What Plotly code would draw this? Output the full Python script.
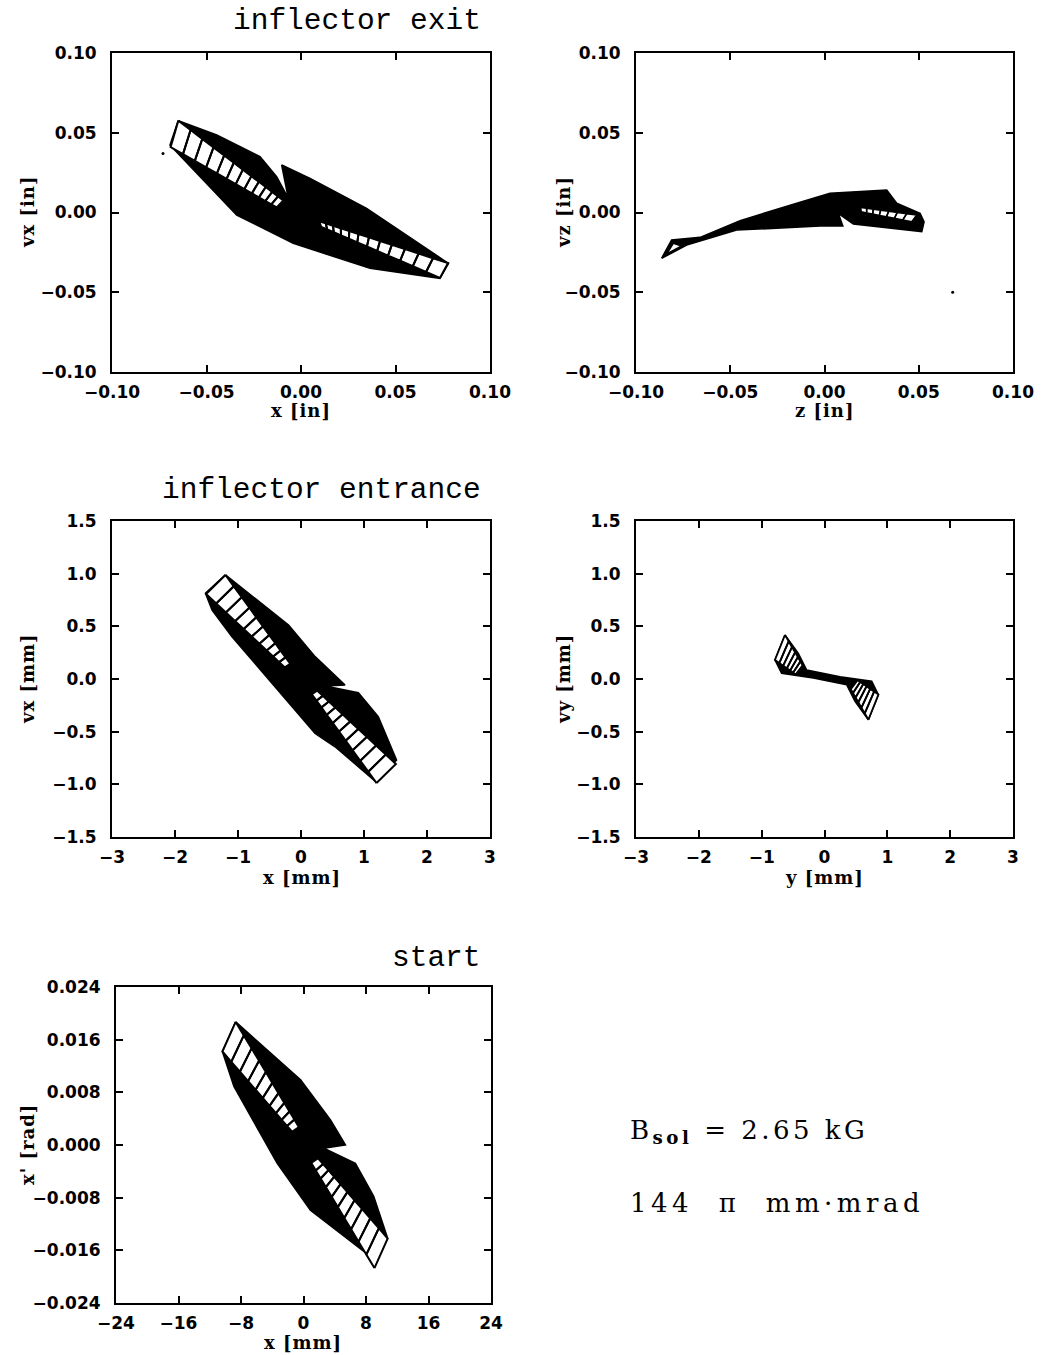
import plotly.graph_objects as go

W, H = 1043, 1355

# ================= data =================
# --- Panel 1: inflector exit, x vs vx [in] ---
P1_BODY_X = [-0.0649, -0.0446, -0.0217, -0.0129, -0.0067, -0.0102, 0.0048, 0.0347, 0.0780, 0.0735, 0.0365, -0.0041, -0.0340, -0.0693]
P1_BODY_Y = [0.0576, 0.0486, 0.0350, 0.0224, 0.0089, 0.0298, 0.0214, 0.0026, -0.0319, -0.0413, -0.0350, -0.0193, -0.0016, 0.0423]
# ladders: outer rail (start, end), inner rail (start, end)
P1_LAD1_OUT_X = [-0.0649, -0.0085]
P1_LAD1_OUT_Y = [0.0576, 0.0068]
P1_LAD1_IN_X = [-0.0690, -0.0120]
P1_LAD1_IN_Y = [0.0410, 0.0026]
P1_LAD2_OUT_X = [0.0735, 0.0097]
P1_LAD2_OUT_Y = [-0.0410, -0.0085]
P1_LAD2_IN_X = [0.0778, 0.0086]
P1_LAD2_IN_Y = [-0.0317, -0.0051]
P1_RUNGS = [0, 0.115, 0.225, 0.33, 0.43, 0.52, 0.605, 0.685, 0.755, 0.82, 0.88, 0.935, 0.985]
P1_STRAY_X = [-0.073]
P1_STRAY_Y = [0.037]

# --- Panel 2: inflector exit, z vs vz [in] ---
P2_BODY_X = [-0.0864, -0.0811, -0.0660, -0.0448, -0.0147, 0.0029, 0.0330, 0.0383, 0.0507, 0.0528, 0.0516, 0.0153, 0.0073, 0.0097, -0.0024, -0.0466, -0.0731]
P2_BODY_Y = [-0.0287, -0.0172, -0.0156, -0.0051, 0.0058, 0.0120, 0.0141, 0.0058, -0.0005, -0.0058, -0.0120, -0.0072, -0.0005, -0.0085, -0.0085, -0.0110, -0.0204]
P2_LAD1_OUT_X = [0.0489, 0.0135]
P2_LAD1_OUT_Y = [-0.0016, 0.0041]
P2_LAD1_IN_X = [0.0463, 0.0144]
P2_LAD1_IN_Y = [-0.0058, 0.0016]
P2_RUNGS = [0, 0.15, 0.29, 0.42, 0.54, 0.65, 0.75, 0.84]
P2_HOLE_X = [-0.0802, -0.0837, -0.0758]
P2_HOLE_Y = [-0.0193, -0.0260, -0.0210]
P2_STRAY_X = [0.068]
P2_STRAY_Y = [-0.050]

# --- Panel 3: inflector entrance, x vs vx [mm] ---
P3_BODY_X = [-1.199, -0.198, 0.224, 0.699, 0.383, 0.910, 1.226, 1.516, 1.195, 0.541, 0.224, -0.620, -1.095, -1.411, -1.516]
P3_BODY_Y = [0.988, 0.513, 0.212, -0.057, -0.066, -0.130, -0.358, -0.769, -0.978, -0.643, -0.516, 0.070, 0.402, 0.655, 0.814]
P3_LAD1_OUT_X = [-1.199, -0.145]
P3_LAD1_OUT_Y = [0.988, 0.123]
P3_LAD1_IN_X = [-1.506, -0.224]
P3_LAD1_IN_Y = [0.807, 0.092]
P3_LAD2_OUT_X = [1.199, 0.145]
P3_LAD2_OUT_Y = [-0.988, -0.123]
P3_LAD2_IN_X = [1.506, 0.224]
P3_LAD2_IN_Y = [-0.807, -0.092]
P3_RUNGS = [0, 0.125, 0.245, 0.36, 0.465, 0.565, 0.66, 0.75, 0.83, 0.905, 0.975]

# --- Panel 4: inflector entrance, y vs vy [mm] ---
P4_BODY_X = [-0.629, -0.417, -0.284, 0.247, 0.751, 0.857, 0.698, 0.486, 0.353, -0.178, -0.682, -0.788]
P4_BODY_Y = [0.418, 0.244, 0.085, 0.022, -0.022, -0.149, -0.386, -0.212, -0.054, 0.009, 0.054, 0.180]
P4_LAD1_OUT_X = [-0.629, -0.337]
P4_LAD1_OUT_Y = [0.418, 0.117]
P4_LAD1_IN_X = [-0.788, -0.443]
P4_LAD1_IN_Y = [0.180, 0.038]
P4_LAD2_OUT_X = [0.699, 0.407]
P4_LAD2_OUT_Y = [-0.386, -0.085]
P4_LAD2_IN_X = [0.858, 0.513]
P4_LAD2_IN_Y = [-0.148, -0.006]
P4_RUNGS = [0, 0.2, 0.38, 0.55, 0.7, 0.84, 0.96]

# --- Panel 5: start, x [mm] vs x' [rad] ---
P5_BODY_X = [-8.68, -0.38, 3.45, 5.36, 2.60, 6.64, 8.98, 10.69, 9.20, 0.89, -3.36, -8.90, -10.38]
P5_BODY_Y = [0.0187, 0.0099, 0.0038, 0.0, -0.0005, -0.0028, -0.0078, -0.0139, -0.0175, -0.0099, -0.0028, 0.0089, 0.0142]
P5_LAD1_OUT_X = [-8.68, -0.38]
P5_LAD1_OUT_Y = [0.0187, 0.0023]
P5_LAD1_IN_X = [-10.38, -1.24]
P5_LAD1_IN_Y = [0.0142, 0.0017]
P5_LAD2_OUT_X = [9.08, 0.78]
P5_LAD2_OUT_Y = [-0.0187, -0.0023]
P5_LAD2_IN_X = [10.78, 1.64]
P5_LAD2_IN_Y = [-0.0142, -0.0017]
P5_RUNGS = [0, 0.125, 0.245, 0.36, 0.465, 0.565, 0.66, 0.75, 0.83, 0.905, 0.975]

# --- tick values ---
TICKS_IN = [-0.10, -0.05, 0.0, 0.05, 0.10]
TICKS_MM_X = [-3, -2, -1, 0, 1, 2, 3]
TICKS_MM_V = [-1.5, -1.0, -0.5, 0.0, 0.5, 1.0, 1.5]
TICKS_START_X = [-24, -16, -8, 0, 8, 16, 24]
TICKS_START_XP = [-0.024, -0.016, -0.008, 0.0, 0.008, 0.016, 0.024]

# ================= geometry (pixels of the page) =================
COL_L = (112, 490)
COL_R = (636, 1013)
COL_5 = (116, 491)
ROW1 = (53, 372)
ROW2 = (521, 837)
ROW3 = (987, 1303)


def xdom(c):
    return [c[0] / W, c[1] / W]


def ydom(r):
    return [1 - r[1] / H, 1 - r[0] / H]


def closed(xs, ys):
    return list(xs) + [xs[0], None], list(ys) + [ys[0], None]


def ladder(ox, oy, ix, iy, rungs):
    def pt(a, t):
        return a[0] + t * (a[1] - a[0])
    gx, gy = [], []
    for k in range(len(rungs) - 1):
        t0, t1 = rungs[k], rungs[k + 1]
        gx += [pt(ox, t0), pt(ox, t1), pt(ix, t1), pt(ix, t0), pt(ox, t0), None]
        gy += [pt(oy, t0), pt(oy, t1), pt(iy, t1), pt(iy, t0), pt(oy, t0), None]
    return gx, gy


fig = go.Figure()


def body(xs, ys, xa, ya):
    bx, by = closed(xs, ys)
    fig.add_trace(go.Scatter(x=bx, y=by, mode="lines", fill="toself", fillcolor="black",
                             line=dict(color="black", width=1.6), xaxis=xa, yaxis=ya,
                             hoverinfo="skip", showlegend=False))


def holes(gx, gy, xa, ya, w=2.0):
    fig.add_trace(go.Scatter(x=gx, y=gy, mode="lines", fill="toself", fillcolor="white",
                             line=dict(color="black", width=w), xaxis=xa, yaxis=ya,
                             hoverinfo="skip", showlegend=False))


# panel 1
body(P1_BODY_X, P1_BODY_Y, "x", "y")
g1 = ladder(P1_LAD1_OUT_X, P1_LAD1_OUT_Y, P1_LAD1_IN_X, P1_LAD1_IN_Y, P1_RUNGS)
g2 = ladder(P1_LAD2_OUT_X, P1_LAD2_OUT_Y, P1_LAD2_IN_X, P1_LAD2_IN_Y, P1_RUNGS)
holes(g1[0] + g2[0], g1[1] + g2[1], "x", "y")

# panel 2
body(P2_BODY_X, P2_BODY_Y, "x2", "y2")
g1 = ladder(P2_LAD1_OUT_X, P2_LAD1_OUT_Y, P2_LAD1_IN_X, P2_LAD1_IN_Y, P2_RUNGS)
hx, hy = closed(P2_HOLE_X, P2_HOLE_Y)
holes(g1[0] + hx, g1[1] + hy, "x2", "y2", w=1.5)

# panel 3
body(P3_BODY_X, P3_BODY_Y, "x3", "y3")
g1 = ladder(P3_LAD1_OUT_X, P3_LAD1_OUT_Y, P3_LAD1_IN_X, P3_LAD1_IN_Y, P3_RUNGS)
g2 = ladder(P3_LAD2_OUT_X, P3_LAD2_OUT_Y, P3_LAD2_IN_X, P3_LAD2_IN_Y, P3_RUNGS)
holes(g1[0] + g2[0], g1[1] + g2[1], "x3", "y3")

# panel 4
body(P4_BODY_X, P4_BODY_Y, "x4", "y4")
g1 = ladder(P4_LAD1_OUT_X, P4_LAD1_OUT_Y, P4_LAD1_IN_X, P4_LAD1_IN_Y, P4_RUNGS)
g2 = ladder(P4_LAD2_OUT_X, P4_LAD2_OUT_Y, P4_LAD2_IN_X, P4_LAD2_IN_Y, P4_RUNGS)
holes(g1[0] + g2[0], g1[1] + g2[1], "x4", "y4", w=1.8)

# panel 5
body(P5_BODY_X, P5_BODY_Y, "x5", "y5")
g1 = ladder(P5_LAD1_OUT_X, P5_LAD1_OUT_Y, P5_LAD1_IN_X, P5_LAD1_IN_Y, P5_RUNGS)
g2 = ladder(P5_LAD2_OUT_X, P5_LAD2_OUT_Y, P5_LAD2_IN_X, P5_LAD2_IN_Y, P5_RUNGS)
holes(g1[0] + g2[0], g1[1] + g2[1], "x5", "y5")

fig.add_trace(go.Scatter(x=P1_STRAY_X, y=P1_STRAY_Y, mode="markers", xaxis="x", yaxis="y",
                         marker=dict(color="black", size=3), showlegend=False, hoverinfo="skip"))
fig.add_trace(go.Scatter(x=P2_STRAY_X, y=P2_STRAY_Y, mode="markers", xaxis="x2", yaxis="y2",
                         marker=dict(color="black", size=3), showlegend=False, hoverinfo="skip"))

TICKFONT = dict(family="DejaVu Sans", size=17, color="black", weight="bold")


def ax(domain, rng, tickvals, fmt, anchor, standoff):
    return dict(domain=domain, range=rng, tickvals=tickvals, tickformat=fmt, anchor=anchor,
                ticks="inside", ticklen=7, tickwidth=1.5, tickcolor="black",
                showline=True, linewidth=2, linecolor="black", mirror="ticks",
                showgrid=False, zeroline=False, tickfont=TICKFONT, ticklabelstandoff=standoff,
                automargin=False, fixedrange=True)


layout = dict(
    width=W, height=H, margin=dict(l=0, r=0, t=0, b=0, pad=0, autoexpand=False),
    paper_bgcolor="white", plot_bgcolor="white", showlegend=False,
    xaxis=ax(xdom(COL_L), [-0.1, 0.1], TICKS_IN, ".2f", "y", 4),
    yaxis=ax(ydom(ROW1), [-0.1, 0.1], TICKS_IN, ".2f", "x", 10),
    xaxis2=ax(xdom(COL_R), [-0.1, 0.1], TICKS_IN, ".2f", "y2", 4),
    yaxis2=ax(ydom(ROW1), [-0.1, 0.1], TICKS_IN, ".2f", "x2", 10),
    xaxis3=ax(xdom(COL_L), [-3, 3], TICKS_MM_X, "d", "y3", 4),
    yaxis3=ax(ydom(ROW2), [-1.5, 1.5], TICKS_MM_V, ".1f", "x3", 10),
    xaxis4=ax(xdom(COL_R), [-3, 3], TICKS_MM_X, "d", "y4", 4),
    yaxis4=ax(ydom(ROW2), [-1.5, 1.5], TICKS_MM_V, ".1f", "x4", 10),
    xaxis5=ax(xdom(COL_5), [-24, 24], TICKS_START_X, "d", "y5", 4),
    yaxis5=ax(ydom(ROW3), [-0.024, 0.024], TICKS_START_XP, ".3f", "x5", 10),
)
fig.update_layout(**layout)

SERIF = "DejaVu Serif"
MONO = "Liberation Mono"
anns = []


def A(text, x, y, size, xanchor="center", angle=0, spacing=0, bold=False, family=SERIF):
    t = text
    if bold:
        t = "<b>" + t + "</b>"
    if spacing:
        t = '<span style="letter-spacing:%spx">' % spacing + t + "</span>"
    anns.append(dict(text=t, x=x / W, y=1 - y / H, xref="paper", yref="paper",
                     xanchor=xanchor, yanchor="middle", showarrow=False, textangle=angle,
                     font=dict(family=family, size=size, color="black")))


# panel titles (typewriter-like face)
A("inflector exit", 483, 21, 29.5, xanchor="right", family=MONO)
A("inflector entrance", 483, 490, 29.5, xanchor="right", family=MONO)
A("start", 483, 958, 29.5, xanchor="right", family=MONO)

# axis titles
A("x [in]", 301, 410, 18, bold=True, spacing=1)
A("z [in]", 824, 410, 18, bold=True, spacing=1)
A("x [mm]", 302, 877, 18, bold=True, spacing=1)
A("y [mm]", 824, 877, 18, bold=True, spacing=1)
A("x [mm]", 303, 1342, 18, bold=True, spacing=1)
A("vx [in]", 27, 212, 18, angle=-90, bold=True, spacing=1)
A("vz [in]", 563, 212, 18, angle=-90, bold=True, spacing=1)
A("vx [mm]", 27, 679, 18, angle=-90, bold=True, spacing=1)
A("vy [mm]", 563, 679, 18, angle=-90, bold=True, spacing=1)
A("x' [rad]", 27, 1145, 18, angle=-90, bold=True, spacing=1)

# text block
A("B<sub><b>sol</b></sub>&nbsp;=&nbsp;2.65&nbsp;kG", 628, 1131, 26, xanchor="left", spacing=3.5)
A("144&nbsp;&nbsp;π&nbsp;&nbsp;mm·mrad", 628, 1203, 26, xanchor="left", spacing=4.5)

fig.update_layout(annotations=anns)
fig.write_html("out.html")
